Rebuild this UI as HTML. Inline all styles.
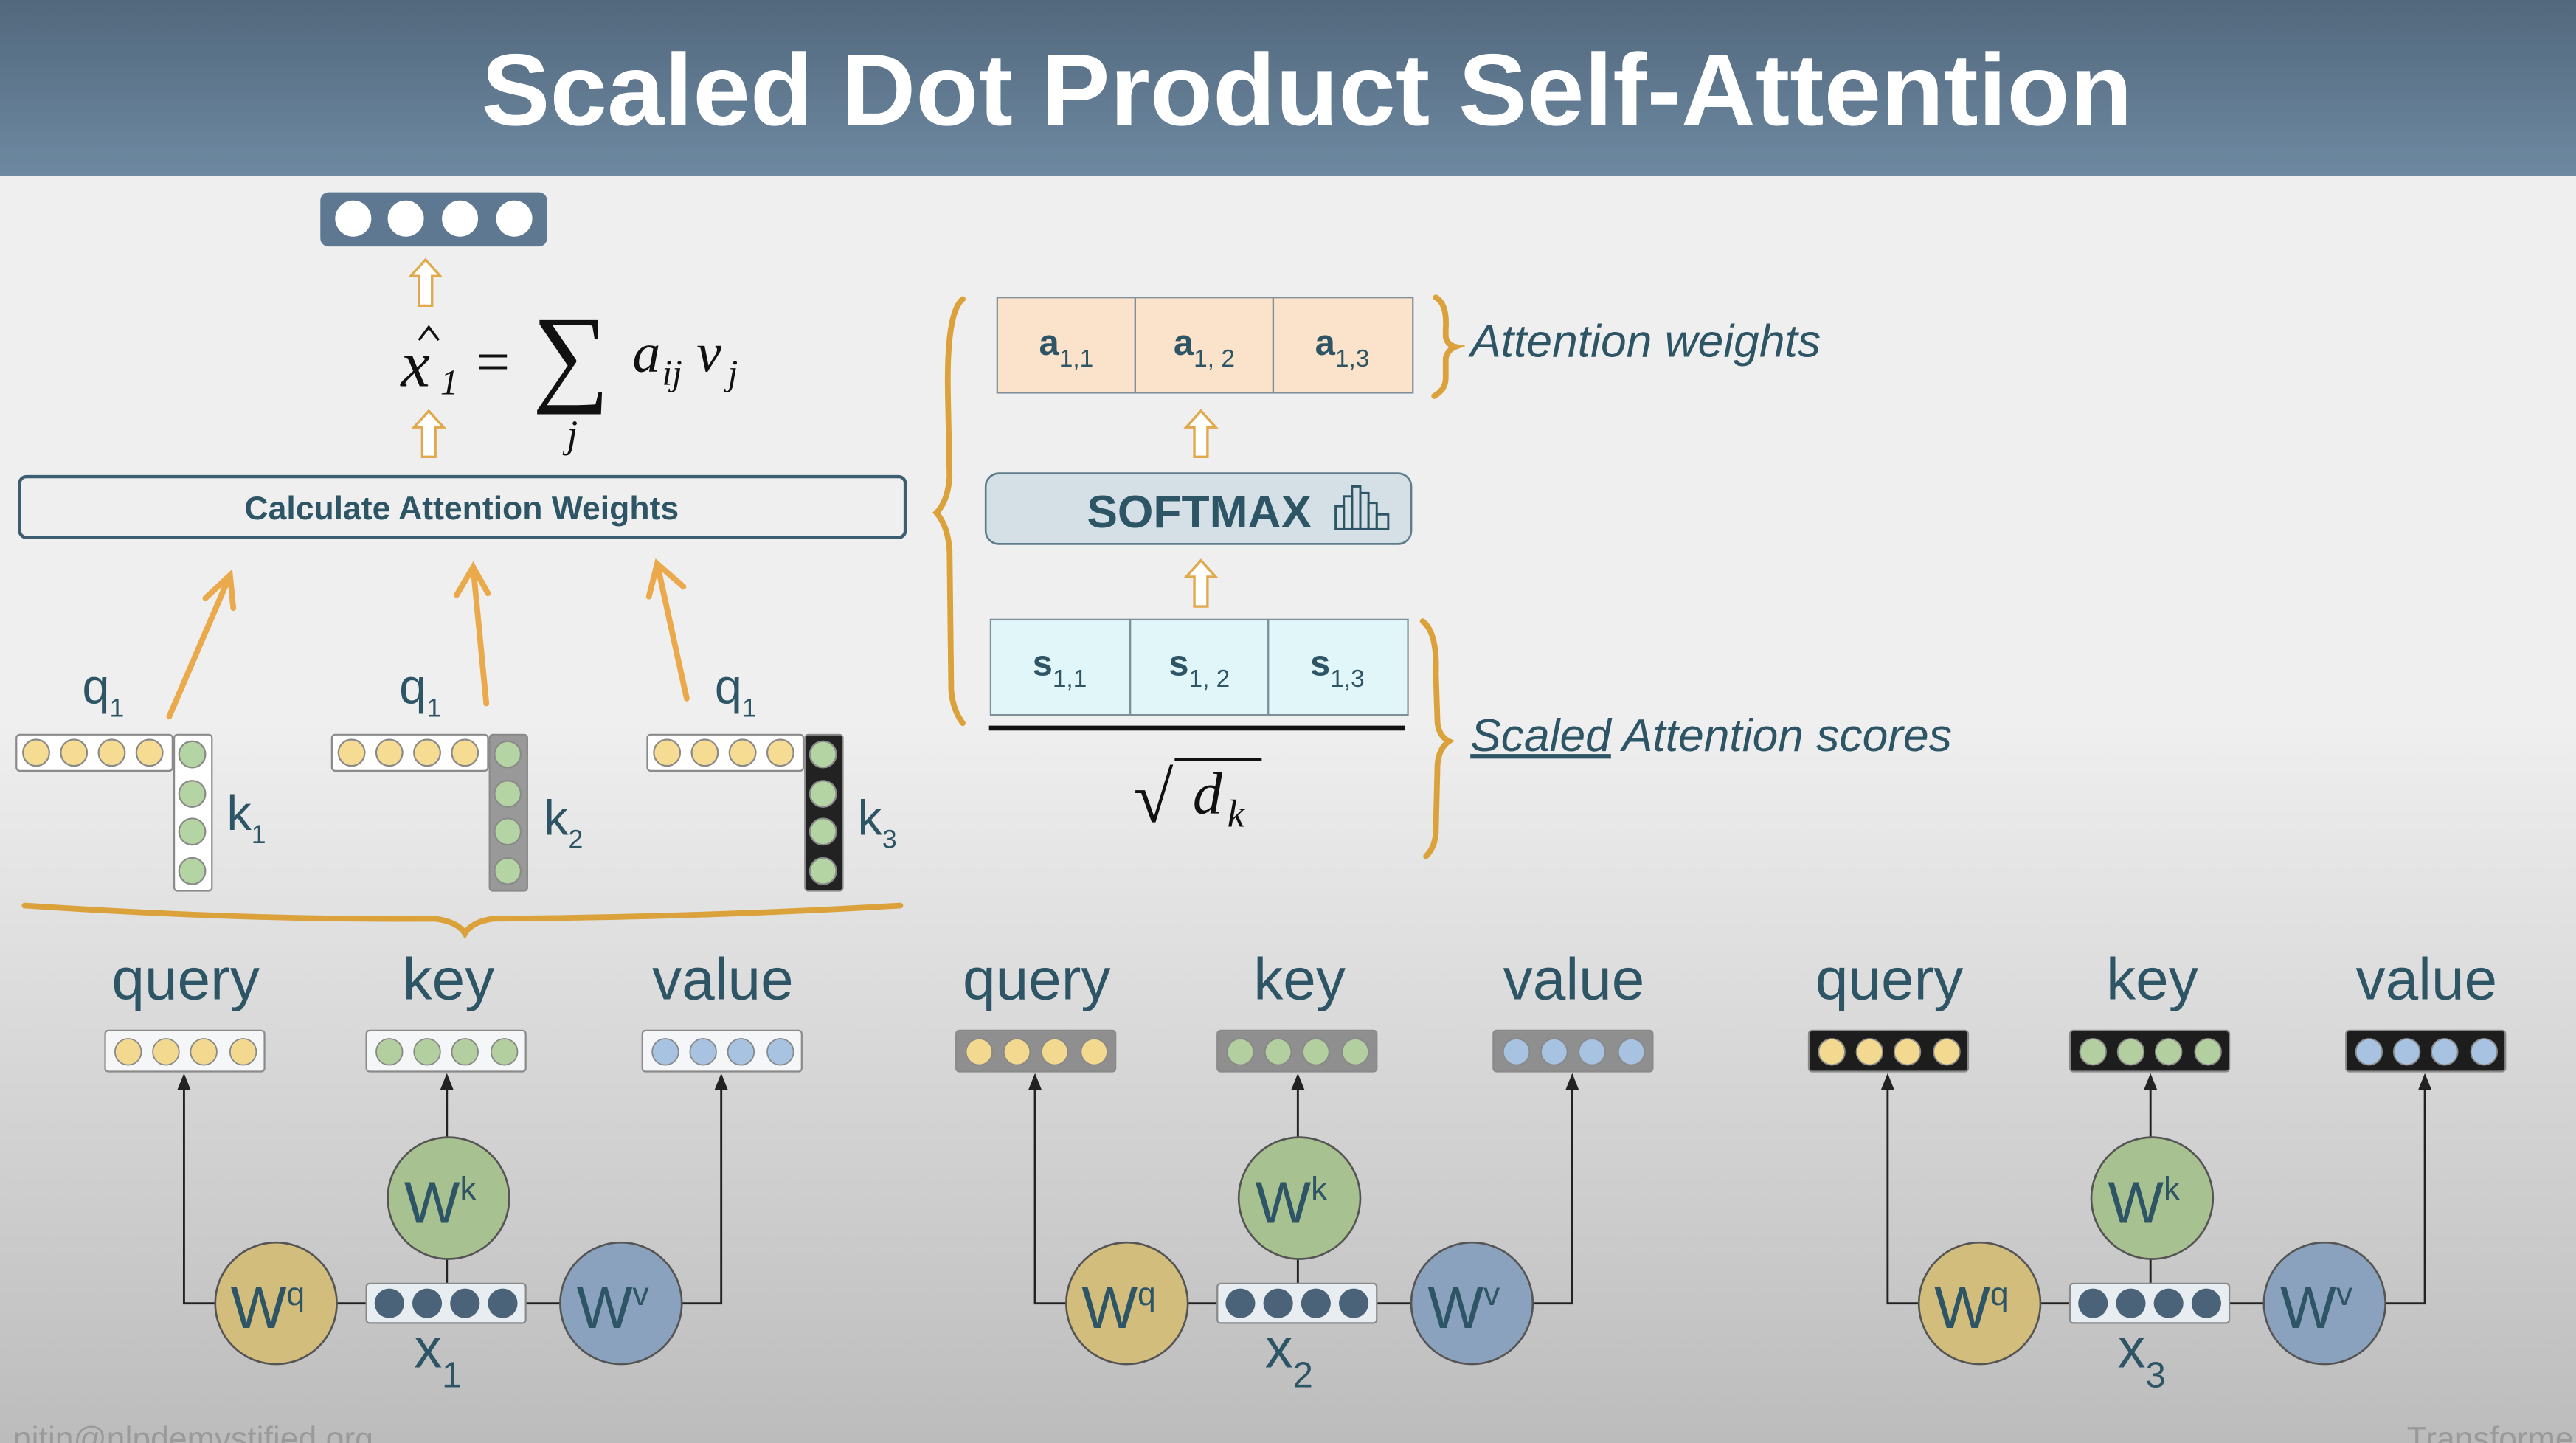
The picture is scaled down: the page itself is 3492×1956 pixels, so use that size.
<!DOCTYPE html>
<html><head><meta charset="utf-8"><style>
html,body{margin:0;padding:0;overflow:hidden;background:#efefef}
svg{display:block}
.t{font-family:"Liberation Sans",sans-serif;fill:#2e5566}
.m{font-family:"Liberation Serif",serif;font-style:italic;fill:#111}
</style></head><body>
<svg width="3492" height="1956" viewBox="0 0 1568 878" preserveAspectRatio="none" xmlns="http://www.w3.org/2000/svg">
<defs>
<linearGradient id="hd" x1="0" y1="0" x2="0" y2="1"><stop offset="0" stop-color="#52687d"/><stop offset="1" stop-color="#6d89a1"/></linearGradient>
<linearGradient id="bg" x1="0" y1="0" x2="0" y2="1"><stop offset="0" stop-color="#efefef"/><stop offset="0.5" stop-color="#efefef"/><stop offset="1" stop-color="#bcbcbc"/></linearGradient>
</defs>
<rect width="1568" height="878" fill="url(#bg)"/>
<rect width="1568" height="107" fill="url(#hd)"/>
<text x="293" y="76" textLength="1005" lengthAdjust="spacingAndGlyphs" font-family="Liberation Sans,sans-serif" font-weight="bold" font-size="62" fill="#fff">Scaled Dot Product Self-Attention</text>

<!-- output vector -->
<rect x="195" y="117" width="138" height="33" rx="5" fill="#5f7891"/>
<g fill="#fff"><circle cx="215" cy="133" r="11"/><circle cx="247" cy="133" r="11"/><circle cx="280" cy="133" r="11"/><circle cx="313" cy="133" r="11"/></g>
<g fill="#fff" stroke="#e0a94c" stroke-width="1.5">
<polygon points="259,158 268,168 263,168 263,186 255,186 255,168 250,168"/>
<polygon points="261,250 270,260 265,260 265,278 257,278 257,260 252,260"/>
<polygon points="731,250 740,260 735,260 735,278 727,278 727,260 722,260"/>
<polygon points="731,341 740,351 735,351 735,369 727,369 727,351 722,351"/>
</g>
<!-- formula -->
<text class="m" x="244" y="235" font-size="40">x</text>
<path d="M255,207 L261,199 L267,207" stroke="#111" stroke-width="1.5" fill="none"/>
<text class="m" x="268" y="240" font-size="22">1</text>
<text class="m" x="290" y="232" font-size="36" style="font-style:normal">=</text>
<text class="m" x="324" y="238" font-size="66" style="font-style:normal">∑</text>
<text class="m" x="345" y="272" font-size="24">j</text>
<text class="m" x="385" y="226" font-size="34">a</text>
<text class="m" x="403" y="234" font-size="22">ij</text>
<text class="m" x="424" y="226" font-size="34">v</text>
<text class="m" x="443" y="234" font-size="22">j</text>

<rect x="12" y="290" width="539" height="37" rx="4" fill="none" stroke="#3d5e70" stroke-width="2"/>
<text class="t" x="281" y="316" text-anchor="middle" font-weight="bold" font-size="20">Calculate Attention Weights</text>

<!-- orange arrows -->
<g stroke="#eaa94a" stroke-width="3.5" fill="none" stroke-linecap="round">
<path d="M103,436 L140,350 M125,364 L140,350 L142,370"/>
<path d="M296,428 L288,345 M278,362 L288,345 L297,361"/>
<path d="M418,425 L400,343 M395,363 L400,343 L416,357"/>
</g>
<!-- q/k labels -->
<g class="t" font-size="30">
<text x="50" y="428">q<tspan font-size="16" dy="8">1</tspan></text>
<text x="243" y="428">q<tspan font-size="16" dy="8">1</tspan></text>
<text x="435" y="428">q<tspan font-size="16" dy="8">1</tspan></text>
<text x="138" y="505">k<tspan font-size="16" dy="8">1</tspan></text>
<text x="331" y="508">k<tspan font-size="16" dy="8">2</tspan></text>
<text x="522" y="508">k<tspan font-size="16" dy="8">3</tspan></text>
</g>
<!-- q/k vectors -->
<g stroke="#8a8a8a" stroke-width="1">
<rect x="10" y="447" width="95" height="22" rx="2" fill="#fff"/>
<rect x="202" y="447" width="95" height="22" rx="2" fill="#fff"/>
<rect x="394" y="447" width="95" height="22" rx="2" fill="#fff"/>
<rect x="106" y="447" width="23" height="95" rx="2" fill="#fff"/>
<rect x="298" y="447" width="23" height="95" rx="2" fill="#999"/>
<rect x="490" y="447" width="23" height="95" rx="2" fill="#222"/>
<g fill="#f6dc93">
<circle cx="22" cy="458" r="8"/><circle cx="45" cy="458" r="8"/><circle cx="68" cy="458" r="8"/><circle cx="91" cy="458" r="8"/>
<circle cx="214" cy="458" r="8"/><circle cx="237" cy="458" r="8"/><circle cx="260" cy="458" r="8"/><circle cx="283" cy="458" r="8"/>
<circle cx="406" cy="458" r="8"/><circle cx="429" cy="458" r="8"/><circle cx="452" cy="458" r="8"/><circle cx="475" cy="458" r="8"/>
</g>
<g fill="#b5d4a3">
<circle cx="117" cy="459" r="8"/><circle cx="117" cy="483" r="8"/><circle cx="117" cy="506" r="8"/><circle cx="117" cy="530" r="8"/>
<circle cx="309" cy="459" r="8"/><circle cx="309" cy="483" r="8"/><circle cx="309" cy="506" r="8"/><circle cx="309" cy="530" r="8"/>
<circle cx="501" cy="459" r="8"/><circle cx="501" cy="483" r="8"/><circle cx="501" cy="506" r="8"/><circle cx="501" cy="530" r="8"/>
</g>
</g>
<!-- braces -->
<g stroke="#dba23c" stroke-width="3.5" fill="none" stroke-linecap="round">
<path d="M15,551 Q150,560 265,559 Q279,561 283,568 Q287,561 300,559 Q430,558 548,551"/>
<path d="M586,182 Q576,190 577,240 L578,290 Q577,305 570,312 Q577,320 578,335 L579,420 Q580,432 586,440"/>
<path d="M874,181 Q881,185 880,200 L880,205 Q881,210 886,211 Q881,213 880,218 L880,230 Q880,237 873,241"/>
<path d="M866,378 Q875,385 874,410 L875,440 Q876,448 882,451 Q876,455 875,465 L874,505 Q874,515 868,521"/>
</g>
<!-- a cells -->
<g stroke="#7f8f9a" stroke-width="1">
<rect x="607" y="181" width="84" height="58" fill="#fbe3cb"/><rect x="691" y="181" width="84" height="58" fill="#fbe3cb"/><rect x="775" y="181" width="85" height="58" fill="#fbe3cb"/>
<rect x="603" y="377" width="85" height="58" fill="#e0f6f8"/><rect x="688" y="377" width="84" height="58" fill="#e0f6f8"/><rect x="772" y="377" width="85" height="58" fill="#e0f6f8"/>
</g>
<g class="t" font-weight="bold" font-size="22" text-anchor="middle">
<text x="649" y="216">a<tspan font-size="15" dy="7" font-weight="normal">1,1</tspan></text>
<text x="733" y="216">a<tspan font-size="15" dy="7" font-weight="normal">1, 2</tspan></text>
<text x="817" y="216">a<tspan font-size="15" dy="7" font-weight="normal">1,3</tspan></text>
<text x="645" y="411">s<tspan font-size="15" dy="7" font-weight="normal">1,1</tspan></text>
<text x="730" y="411">s<tspan font-size="15" dy="7" font-weight="normal">1, 2</tspan></text>
<text x="814" y="411">s<tspan font-size="15" dy="7" font-weight="normal">1,3</tspan></text>
</g>
<rect x="600" y="288" width="259" height="43" rx="8" fill="#d4e0e5" stroke="#5f7c8b" stroke-width="1.2"/>
<text class="t" x="730" y="321" text-anchor="middle" font-weight="bold" font-size="28">SOFTMAX</text>
<g fill="none" stroke="#2e5566" stroke-width="1.3">
<rect x="813" y="308" width="5" height="14"/><rect x="818" y="302" width="5" height="20"/><rect x="823" y="296" width="5" height="26"/><rect x="828" y="300" width="5" height="22"/><rect x="833" y="306" width="5" height="16"/><rect x="838" y="313" width="7" height="9"/>
</g>
<line x1="602" y1="443" x2="855" y2="443" stroke="#111" stroke-width="3"/>
<text class="m" x="690" y="500" font-size="44" style="font-style:normal">√</text>
<line x1="715" y1="462" x2="768" y2="462" stroke="#111" stroke-width="2"/>
<text class="m" x="726" y="495" font-size="36">d</text>
<text class="m" x="747" y="503" font-size="24">k</text>
<g class="t" font-style="italic" font-size="28">
<text x="895" y="217">Attention weights</text>
<text x="895" y="457"><tspan text-decoration="underline">Scaled</tspan> Attention scores</text>
</g>

<!-- bottom groups -->
<g id="grp">
<g class="t" font-size="36" text-anchor="middle"><text x="113" y="608">query</text><text x="273" y="608">key</text><text x="440" y="608">value</text></g>
<g stroke="#222" stroke-width="1.3" fill="none">
<path d="M131,793 L112,793 L112,662"/><line x1="272" y1="693" x2="272" y2="662"/><line x1="272" y1="766" x2="272" y2="781"/>
<line x1="205" y1="793" x2="223" y2="793"/><line x1="320" y1="793" x2="341" y2="793"/><path d="M415,793 L439,793 L439,662"/>
</g>
<g fill="#222"><path d="M108,663 L112,653 L116,663z"/><path d="M268,663 L272,653 L276,663z"/><path d="M435,663 L439,653 L443,663z"/></g>
<g stroke="#555" stroke-width="1.2"><circle cx="168" cy="793" r="37" fill="#d3bd7c"/><circle cx="273" cy="729" r="37" fill="#a8c190"/><circle cx="378" cy="793" r="37" fill="#8aa2bd"/></g>
<g class="t" font-size="36" text-anchor="middle"><text x="163" y="808">W<tspan font-size="20" dy="-14">q</tspan></text><text x="268" y="744">W<tspan font-size="20" dy="-14">k</tspan></text><text x="373" y="808">W<tspan font-size="20" dy="-14">v</tspan></text></g>
<rect x="223" y="781" width="97" height="24" rx="2" fill="#e7edf0" stroke="#8a8a8a"/>
<g fill="#4a6378"><circle cx="237" cy="793" r="9"/><circle cx="260" cy="793" r="9"/><circle cx="283" cy="793" r="9"/><circle cx="306" cy="793" r="9"/></g>
</g>
<g class="t" font-size="34"><text x="252" y="832">x<tspan font-size="22" dy="12">1</tspan></text><text x="770" y="832">x<tspan font-size="22" dy="12">2</tspan></text><text x="1289" y="832">x<tspan font-size="22" dy="12">3</tspan></text></g>
<use href="#grp" transform="translate(518,0)"/>
<use href="#grp" transform="translate(1037,0)"/>
<g stroke="#8a8a8a">
<rect x="64" y="627" width="97" height="25" rx="2" fill="#f4f6f7"/><rect x="223" y="627" width="97" height="25" rx="2" fill="#f4f6f7"/><rect x="391" y="627" width="97" height="25" rx="2" fill="#f4f6f7"/>
<rect x="582" y="627" width="97" height="25" rx="2" fill="#8f8f8f"/><rect x="741" y="627" width="97" height="25" rx="2" fill="#8f8f8f"/><rect x="909" y="627" width="97" height="25" rx="2" fill="#8f8f8f"/>
<rect x="1101" y="627" width="97" height="25" rx="2" fill="#1d1d1d"/><rect x="1260" y="627" width="97" height="25" rx="2" fill="#1d1d1d"/><rect x="1428" y="627" width="97" height="25" rx="2" fill="#1d1d1d"/>
</g>
<g id="vc" stroke="#888" stroke-width="0.8">
<g fill="#f2d98f"><circle cx="78" cy="640" r="8"/><circle cx="101" cy="640" r="8"/><circle cx="124" cy="640" r="8"/><circle cx="148" cy="640" r="8"/></g>
<g fill="#b3cf9f"><circle cx="237" cy="640" r="8"/><circle cx="260" cy="640" r="8"/><circle cx="283" cy="640" r="8"/><circle cx="307" cy="640" r="8"/></g>
<g fill="#a8c3e2"><circle cx="405" cy="640" r="8"/><circle cx="428" cy="640" r="8"/><circle cx="451" cy="640" r="8"/><circle cx="475" cy="640" r="8"/></g>
</g>
<use href="#vc" transform="translate(518,0)"/>
<use href="#vc" transform="translate(1037,0)"/>
<text x="8" y="882" font-family="Liberation Sans,sans-serif" font-size="20" fill="#9a9a9a">nitin@nlpdemystified.org</text>
<text x="1465" y="882" font-family="Liberation Sans,sans-serif" font-size="20" fill="#9a9a9a">Transforme</text>
</svg>
</body></html>
